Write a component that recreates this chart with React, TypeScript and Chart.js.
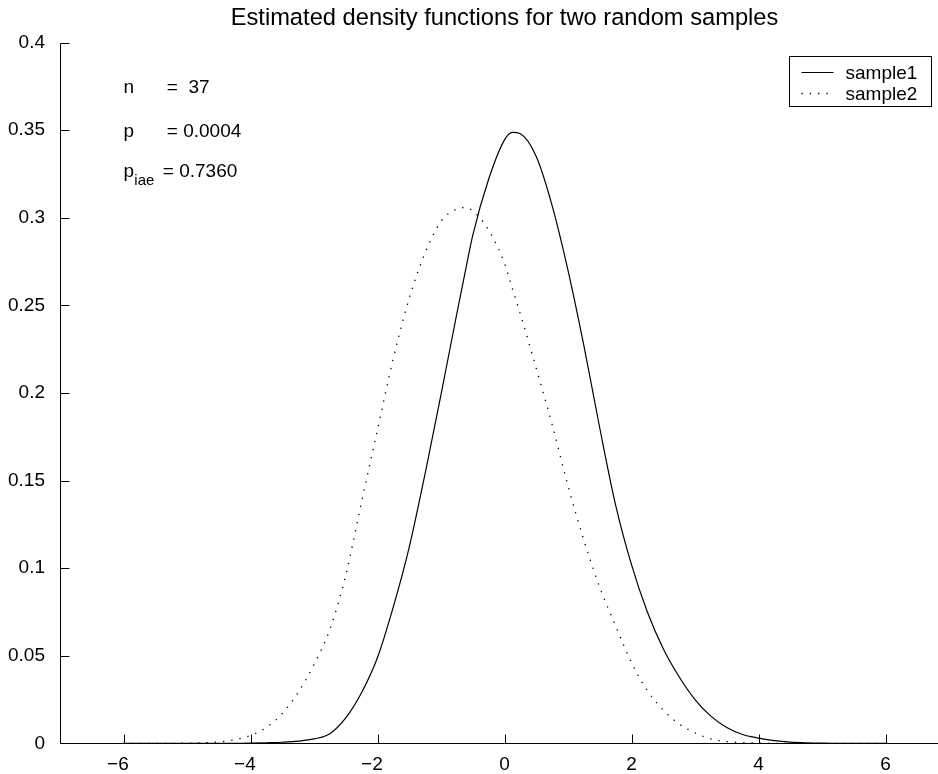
import React, { useEffect, useRef } from "react";
import { Chart, registerables } from "chart.js";

Chart.register(...registerables);

const xs = [
  -6, -5.75, -5.5, -5.25, -5, -4.75, -4.5, -4.25, -4, -3.75, -3.5, -3.25, -3,
  -2.75, -2.5, -2.25, -2, -1.75, -1.5, -1.25, -1, -0.75, -0.625, -0.5, -0.25, 0,
  0.125, 0.25, 0.5, 0.75, 1, 1.25, 1.5, 1.75, 2, 2.25, 2.5, 2.75, 3, 3.25, 3.5,
  3.75, 4, 4.25, 4.5, 4.75, 5, 5.25, 5.5, 5.75, 6,
];

const sample1 = [
  0, 0, 0, 0, 0, 0, 0, 0, 0.0001, 0.0003, 0.0006, 0.0012, 0.0025, 0.0055,
  0.0145, 0.029, 0.049, 0.078, 0.112, 0.154, 0.199, 0.2455, 0.268, 0.29, 0.322,
  0.3445, 0.3488, 0.348, 0.335, 0.307, 0.27, 0.227, 0.18, 0.136, 0.102, 0.075,
  0.054, 0.038, 0.025, 0.0155, 0.009, 0.005, 0.003, 0.0015, 0.0007, 0.0003,
  0.0001, 0, 0, 0, 0,
];

const sample2 = [
  0, 0, 0, 0, 0.0001, 0.0003, 0.0008, 0.002, 0.0045, 0.009, 0.017, 0.029,
  0.045, 0.065, 0.096, 0.138, 0.179, 0.22, 0.254, 0.28, 0.298, 0.305, 0.3058,
  0.304, 0.293, 0.274, 0.2595, 0.245, 0.214, 0.182, 0.147, 0.116, 0.089, 0.067,
  0.046, 0.03, 0.019, 0.011, 0.006, 0.0025, 0.001, 0.0004, 0.0001, 0, 0, 0, 0,
  0, 0, 0, 0,
];

const seriesLabels = ["sample1", "sample2"];
const xTicks = [-6, -4, -2, 0, 2, 4, 6];
const xTickLabels = ["\u22126", "\u22124", "\u22122", "0", "2", "4", "6"];
const yTicks = [0, 0.05, 0.1, 0.15, 0.2, 0.25, 0.3, 0.35, 0.4];
const yTickLabels = ["0", "0.05", "0.1", "0.15", "0.2", "0.25", "0.3", "0.35", "0.4"];
const titleText = "Estimated density functions for two random samples";

const statNames = ["n", "p", "p"];
const statSubs = ["", "", "iae"];
const statValues = ["=  37", "= 0.0004", "= 0.7360"];
const statX = -6;
const statY = [0.375, 0.35, 0.327];

const FONT = '"Liberation Sans", Arial, Helvetica, sans-serif';

const overlay = {
  id: "overlay",
  afterDraw(chart: any) {
    const ctx = chart.ctx as CanvasRenderingContext2D;
    const { left, right, top, bottom } = chart.chartArea;
    const sx = chart.scales.x;
    const sy = chart.scales.y;
    ctx.save();
    ctx.strokeStyle = "#000";
    ctx.fillStyle = "#000";
    ctx.lineWidth = 1;
    ctx.setLineDash([]);

    // axis lines
    const ax = Math.round(left) + 0.5;
    const ay = Math.round(bottom) + 0.5;
    ctx.beginPath();
    ctx.moveTo(ax, Math.round(top) + 0.5);
    ctx.lineTo(ax, ay);
    ctx.lineTo(right, ay);
    // inside ticks
    xTicks.forEach((v) => {
      const px = Math.round(sx.getPixelForValue(v)) + 0.5;
      ctx.moveTo(px, ay);
      ctx.lineTo(px, ay - 9);
    });
    yTicks.forEach((v) => {
      const py = Math.round(sy.getPixelForValue(v)) + 0.5;
      ctx.moveTo(ax, py);
      ctx.lineTo(ax + 9, py);
    });
    ctx.stroke();

    // x tick labels (digits centred on tick, minus hanging left)
    ctx.font = `19px ${FONT}`;
    ctx.textBaseline = "alphabetic";
    ctx.textAlign = "left";
    xTickLabels.forEach((lab, i) => {
      const px = sx.getPixelForValue(xTicks[i]);
      const neg = lab.charAt(0) === "\u2212";
      const body = neg ? lab.slice(1) : lab;
      const bw = ctx.measureText(body).width;
      const x0 = px - bw / 2;
      if (neg) {
        const mw = ctx.measureText("\u2212").width;
        ctx.fillText("\u2212", x0 - mw, bottom + 27);
      }
      ctx.fillText(body, x0, bottom + 27);
    });

    // statistics text
    statNames.forEach((nm, i) => {
      const px = sx.getPixelForValue(statX);
      const py = sy.getPixelForValue(statY[i]) + 6.8;
      ctx.font = `19px ${FONT}`;
      ctx.fillText(nm, px, py);
      if (statSubs[i]) {
        ctx.font = `15px ${FONT}`;
        ctx.fillText(statSubs[i], px + 10.8, py + 8);
        ctx.font = `19px ${FONT}`;
        ctx.fillText(statValues[i], px + 39.3, py);
      } else {
        ctx.fillText(statValues[i], px + 43.3, py);
      }
    });

    // legend box
    const bx = Math.round(right - 160) + 0.5;
    const by = Math.round(top + 13.4) + 0.5;
    const bw = 142;
    const bh = 50;
    ctx.fillStyle = "#fff";
    ctx.fillRect(bx, by, bw, bh);
    ctx.strokeStyle = "#000";
    ctx.lineWidth = 1;
    ctx.strokeRect(bx, by, bw, bh);
    ctx.fillStyle = "#000";
    ctx.font = `19px ${FONT}`;
    ctx.textBaseline = "middle";
    chart.data.datasets.forEach((ds: any, i: number) => {
      const cy = Math.round(by + 15 + i * 21.5) + 0.5;
      ctx.setLineDash(ds.borderDash || []);
      ctx.lineWidth = ds.borderWidth;
      ctx.beginPath();
      ctx.moveTo(bx + 12, cy);
      ctx.lineTo(bx + 44, cy);
      ctx.stroke();
      ctx.setLineDash([]);
      ctx.fillText(ds.label, bx + 56, cy + 1.5);
    });
    ctx.restore();
  },
};

export default function App() {
  const ref = useRef<HTMLCanvasElement | null>(null);

  useEffect(() => {
    if (!ref.current) return;
    const chart = new Chart(ref.current, {
      type: "line",
      data: {
        datasets: [
          {
            label: seriesLabels[0],
            data: xs.map((x, i) => ({ x, y: sample1[i] })),
            borderColor: "#000",
            borderWidth: 1.2,
            pointRadius: 0,
            fill: false,
            cubicInterpolationMode: "monotone",
          },
          {
            label: seriesLabels[1],
            data: xs.map((x, i) => ({ x, y: sample2[i] })),
            borderColor: "#000",
            borderWidth: 1.3,
            borderDash: [1.3, 7],
            pointRadius: 0,
            fill: false,
            cubicInterpolationMode: "monotone",
          },
        ],
      },
      options: {
        animation: false,
        responsive: false,
        maintainAspectRatio: false,
        devicePixelRatio: 1,
        layout: { padding: 0 },
        plugins: {
          legend: { display: false },
          tooltip: { enabled: false },
          title: {
            display: true,
            text: titleText,
            fullSize: false,
            color: "#000",
            font: { family: FONT, size: 23.7, weight: "normal", lineHeight: 1.2 },
            padding: { top: 4.3, bottom: 9.9 },
          },
        },
        scales: {
          x: {
            type: "linear",
            min: -7,
            max: 7,
            grid: { display: false },
            border: { display: false },
            ticks: { display: false },
            afterBuildTicks: (scale: any) => {
              scale.ticks = xTicks.map((v) => ({ value: v }));
            },
            afterFit: (scale: any) => {
              scale.height = 30.7;
            },
          },
          y: {
            type: "linear",
            min: 0,
            max: 0.4,
            grid: { display: false },
            border: { display: false },
            ticks: {
              color: "#000",
              padding: 7,
              font: { family: FONT, size: 19 },
              callback: (_v: any, i: number) => yTickLabels[i],
            },
            afterBuildTicks: (scale: any) => {
              scale.ticks = yTicks.map((v) => ({ value: v }));
            },
            afterFit: (scale: any) => {
              scale.width = 60;
            },
          },
        },
      } as any,
      plugins: [overlay],
    });
    return () => chart.destroy();
  }, []);

  return (
    <div
      style={{
        position: "absolute",
        left: 0,
        top: 0,
        width: 938,
        height: 774,
        overflow: "hidden",
        background: "#fff",
      }}
    >
      <canvas ref={ref} width={949} height={774} style={{ display: "block", width: 949, height: 774 }} />
    </div>
  );
}
